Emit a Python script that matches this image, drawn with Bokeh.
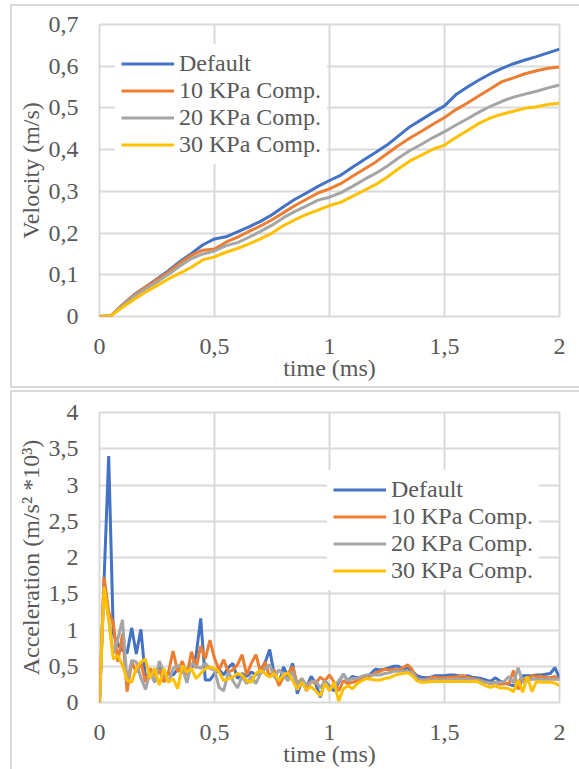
import re
from bokeh.plotting import figure
from bokeh.layouts import column, row
from bokeh.models import Spacer, Legend, LegendItem, Range1d
from bokeh.embed import file_html
from bokeh.resources import INLINE

# ---------------- data ----------------
series_names = ["Default", "10 KPa Comp.", "20 KPa Comp.", "30 KPa Comp."]
series_colors = ["#4472C4", "#ED7D31", "#A5A5A5", "#FFC000"]

vel_time = [0, 0.05, 0.1, 0.15, 0.2, 0.25, 0.3, 0.35, 0.4, 0.45, 0.5, 0.55, 0.6, 0.65,
            0.7, 0.75, 0.8, 0.85, 0.9, 0.95, 1.0, 1.05, 1.1, 1.15, 1.2, 1.25, 1.3, 1.35,
            1.4, 1.45, 1.5, 1.55, 1.6, 1.65, 1.7, 1.75, 1.8, 1.85, 1.9, 1.95, 2.0]
vel_default = [0, 0.002, 0.028, 0.052, 0.071, 0.090, 0.110, 0.132, 0.151, 0.172, 0.186,
               0.191, 0.203, 0.215, 0.228, 0.244, 0.263, 0.281, 0.296, 0.312, 0.326,
               0.339, 0.358, 0.376, 0.393, 0.411, 0.433, 0.455, 0.472, 0.489, 0.505,
               0.532, 0.550, 0.567, 0.582, 0.595, 0.606, 0.615, 0.623, 0.632, 0.641]
vel_10kpa = [0, 0.002, 0.028, 0.051, 0.070, 0.088, 0.107, 0.128, 0.147, 0.159, 0.162,
             0.178, 0.190, 0.204, 0.217, 0.232, 0.249, 0.266, 0.281, 0.296, 0.306,
             0.319, 0.336, 0.353, 0.370, 0.390, 0.410, 0.428, 0.444, 0.461, 0.477,
             0.496, 0.512, 0.529, 0.546, 0.563, 0.572, 0.582, 0.589, 0.595, 0.598]
vel_20kpa = [0, 0.002, 0.026, 0.048, 0.066, 0.083, 0.101, 0.121, 0.139, 0.150, 0.157,
             0.170, 0.177, 0.190, 0.204, 0.219, 0.237, 0.252, 0.265, 0.279, 0.286,
             0.297, 0.312, 0.328, 0.343, 0.360, 0.380, 0.398, 0.413, 0.429, 0.443,
             0.459, 0.474, 0.490, 0.504, 0.516, 0.526, 0.533, 0.540, 0.548, 0.555]
vel_30kpa = [0, 0.002, 0.022, 0.041, 0.058, 0.074, 0.090, 0.104, 0.118, 0.136, 0.143,
             0.154, 0.163, 0.174, 0.186, 0.200, 0.218, 0.232, 0.245, 0.255, 0.266,
             0.274, 0.288, 0.302, 0.316, 0.334, 0.354, 0.373, 0.387, 0.401, 0.411,
             0.429, 0.446, 0.463, 0.476, 0.485, 0.492, 0.499, 0.503, 0.508, 0.511]

acc_time = [round(k * 0.02, 2) for k in range(101)]
acc_default = [0, 1.70, 3.40, 0.95, 0.80, 0.72, 0.68, 1.03, 0.67, 1.01,
               0.33, 0.42, 0.28, 0.51, 0.36, 0.40, 0.38, 0.46, 0.42, 0.46,
               0.47, 0.65, 1.16, 0.31, 0.31, 0.40, 0.45, 0.38, 0.48, 0.54,
               0.33, 0.40, 0.36, 0.42, 0.38, 0.45, 0.55, 0.73, 0.38, 0.26,
               0.49, 0.36, 0.54, 0.12, 0.30, 0.21, 0.36, 0.26, 0.07, 0.30,
               0.22, 0.16, 0.28, 0.39, 0.30, 0.36, 0.34, 0.35, 0.34, 0.40,
               0.46, 0.45, 0.46, 0.48, 0.50, 0.50, 0.46, 0.48, 0.43, 0.37,
               0.35, 0.34, 0.35, 0.37, 0.37, 0.37, 0.38, 0.38, 0.37, 0.36,
               0.37, 0.35, 0.34, 0.33, 0.31, 0.29, 0.34, 0.30, 0.27, 0.25,
               0.23, 0.26, 0.37, 0.37, 0.37, 0.38, 0.38, 0.39, 0.40, 0.48, 0.34]
acc_10kpa = [0, 1.73, 1.25, 1.09, 0.56, 0.95, 0.15, 0.56, 0.42, 0.55,
             0.28, 0.47, 0.38, 0.45, 0.28, 0.42, 0.71, 0.42, 0.57, 0.38,
             0.70, 0.47, 0.78, 0.60, 0.86, 0.61, 0.45, 0.59, 0.42, 0.45,
             0.52, 0.66, 0.38, 0.54, 0.66, 0.42, 0.56, 0.35, 0.45, 0.23,
             0.35, 0.40, 0.49, 0.26, 0.33, 0.16, 0.30, 0.26, 0.35, 0.30,
             0.38, 0.28, 0.16, 0.30, 0.26, 0.28, 0.30, 0.32, 0.34, 0.37,
             0.41, 0.43, 0.46, 0.45, 0.46, 0.45, 0.48, 0.52, 0.45, 0.33,
             0.31, 0.32, 0.34, 0.35, 0.34, 0.34, 0.35, 0.35, 0.36, 0.37,
             0.35, 0.33, 0.32, 0.30, 0.28, 0.26, 0.28, 0.25, 0.26, 0.26,
             0.44, 0.18, 0.33, 0.31, 0.37, 0.36, 0.36, 0.35, 0.34, 0.36, 0.31]
acc_20kpa = [0, 1.60, 1.15, 0.67, 0.88, 1.14, 0.28, 0.58, 0.56, 0.34,
             0.18, 0.42, 0.28, 0.57, 0.42, 0.28, 0.47, 0.51, 0.48, 0.27,
             0.54, 0.50, 0.47, 0.54, 0.47, 0.45, 0.21, 0.16, 0.42, 0.30,
             0.20, 0.36, 0.26, 0.36, 0.26, 0.40, 0.47, 0.52, 0.35, 0.45,
             0.38, 0.30, 0.42, 0.23, 0.33, 0.24, 0.28, 0.30, 0.20, 0.30,
             0.19, 0.22, 0.30, 0.38, 0.30, 0.33, 0.33, 0.36, 0.38, 0.38,
             0.38, 0.38, 0.40, 0.41, 0.43, 0.43, 0.43, 0.43, 0.41, 0.33,
             0.31, 0.31, 0.31, 0.31, 0.31, 0.31, 0.31, 0.31, 0.32, 0.32,
             0.32, 0.31, 0.31, 0.29, 0.28, 0.27, 0.27, 0.28, 0.29, 0.36,
             0.27, 0.48, 0.28, 0.30, 0.32, 0.32, 0.32, 0.32, 0.32, 0.32, 0.32]
acc_30kpa = [0, 1.59, 1.15, 0.60, 0.65, 0.51, 0.31, 0.28, 0.47, 0.56,
             0.60, 0.33, 0.47, 0.24, 0.47, 0.28, 0.33, 0.19, 0.51, 0.42,
             0.47, 0.33, 0.40, 0.47, 0.49, 0.47, 0.42, 0.30, 0.33, 0.35,
             0.40, 0.38, 0.30, 0.28, 0.40, 0.44, 0.40, 0.35, 0.40, 0.30,
             0.38, 0.41, 0.30, 0.18, 0.28, 0.18, 0.22, 0.16, 0.09, 0.26,
             0.16, 0.28, 0.02, 0.19, 0.23, 0.19, 0.26, 0.30, 0.33, 0.32,
             0.31, 0.31, 0.33, 0.34, 0.37, 0.39, 0.40, 0.41, 0.37, 0.30,
             0.28, 0.28, 0.29, 0.29, 0.29, 0.29, 0.29, 0.29, 0.29, 0.29,
             0.29, 0.29, 0.29, 0.26, 0.23, 0.21, 0.23, 0.20, 0.20, 0.19,
             0.15, 0.31, 0.14, 0.36, 0.15, 0.29, 0.28, 0.28, 0.28, 0.27, 0.23]

time_ticks = [0, 0.5, 1, 1.5, 2]
time_tick_labels = ["0", "0,5", "1", "1,5", "2"]
vel_ticks = [0, 0.1, 0.2, 0.3, 0.4, 0.5, 0.6, 0.7]
vel_tick_labels = ["0", "0,1", "0,2", "0,3", "0,4", "0,5", "0,6", "0,7"]
acc_ticks = [0, 0.5, 1, 1.5, 2, 2.5, 3, 3.5, 4]
acc_tick_labels = ["0", "0,5", "1", "1,5", "2", "2,5", "3", "3,5", "4"]

FONT = "'Liberation Serif', serif"
TXT = "#595959"
GRID = "#D9D9D9"
FS = "24px"


def make_fig(height, top, bottom, y_max, y_ticks, y_labels, y_title, x_ticks, x_labels):
    p = figure(width=567, height=height, output_backend="svg", toolbar_location=None,
               x_range=Range1d(0, 2), y_range=Range1d(0, y_max),
               min_border_left=87, min_border_right=20, min_border_top=top,
               min_border_bottom=bottom, border_fill_color="white",
               background_fill_color="white",
               styles={"box-shadow": "0 0 0 2px " + GRID})
    p.xaxis.ticker = x_ticks
    p.xaxis.major_label_overrides = dict(zip(x_ticks, x_labels))
    p.yaxis.ticker = y_ticks
    p.yaxis.major_label_overrides = dict(zip(y_ticks, y_labels))
    for ax in p.axis:
        ax.axis_line_color = None
        ax.major_tick_line_color = None
        ax.minor_tick_line_color = None
        ax.major_tick_out = 0
        ax.major_tick_in = 0
        ax.major_label_text_font = FONT
        ax.major_label_text_font_size = FS
        ax.major_label_text_color = TXT
        ax.axis_label_text_font = FONT
        ax.axis_label_text_font_size = FS
        ax.axis_label_text_color = TXT
        ax.axis_label_text_font_style = "normal"
    p.xaxis.axis_label = "time (ms)"
    p.xaxis.major_label_standoff = 22
    p.xaxis.axis_label_standoff = -2
    p.yaxis.axis_label = y_title
    p.yaxis.major_label_standoff = 21
    p.yaxis.axis_label_standoff = 2
    p.grid.grid_line_color = GRID
    p.grid.grid_line_width = 2
    p.outline_line_color = GRID
    p.outline_line_width = 2
    return p


# ---------------- top: velocity ----------------
p1 = make_fig(380, 18, 70, 0.7, vel_ticks, vel_tick_labels, "Velocity (m/s)",
              time_ticks, time_tick_labels)
items1 = []
for name, color, vals in zip(series_names, series_colors,
                             [vel_default, vel_10kpa, vel_20kpa, vel_30kpa]):
    r = p1.line(vel_time, vals, line_color=color, line_width=3)
    items1.append(LegendItem(label=name, renderers=[r]))

# ---------------- bottom: acceleration ----------------
p2 = make_fig(377, 20, 66, 4, acc_ticks, acc_tick_labels, "Acceleration (m/s\u00b2 *10\u00b3)",
              time_ticks, time_tick_labels)
items2 = []
for name, color, vals in zip(series_names, series_colors,
                             [acc_default, acc_10kpa, acc_20kpa, acc_30kpa]):
    r = p2.line(acc_time, vals, line_color=color, line_width=3)
    items2.append(LegendItem(label=name, renderers=[r]))


def add_legend(p, items, loc):
    lg = Legend(items=items, location=loc, margin=0, padding=6, spacing=0,
                glyph_width=53, glyph_height=27, label_height=27, label_standoff=5,
                label_text_font=FONT, label_text_font_size=FS, label_text_color=TXT,
                border_line_color="white", border_line_alpha=0.0,
                background_fill_color="white", background_fill_alpha=1.0)
    p.add_layout(lg)
    return lg


add_legend(p1, items1, (16, 152))
add_legend(p2, items2, (228, 112))

layout = column(Spacer(height=6),
                row(Spacer(width=12), p1, spacing=0),
                Spacer(height=6),
                row(Spacer(width=12), p2, spacing=0),
                spacing=0)

html = file_html(layout, INLINE)
html = re.sub(r"<body([^>]*)>", r'<body\1 style="background-color:#F1EFE2;">', html, count=1)
open("out.html", "w").write(html)
